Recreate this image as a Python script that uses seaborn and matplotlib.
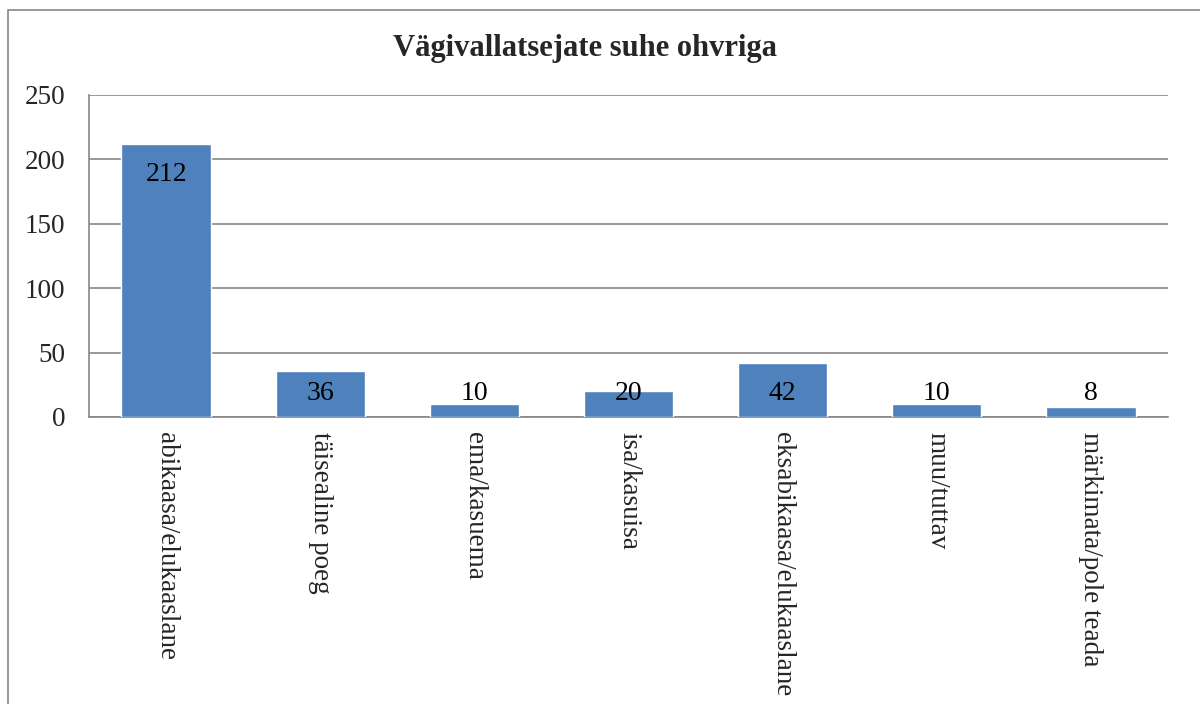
import matplotlib
matplotlib.use("Agg")
import matplotlib.pyplot as plt
import matplotlib.patches as patches
import pandas as pd
import seaborn as sns

# Data
categories = ["abikaasa/elukaaslane", "täisealine poeg", "ema/kasuema", "isa/kasuisa",
              "eksabikaasa/elukaaslane", "muu/tuttav", "märkimata/pole teada"]
counts = [212, 36, 10, 20, 42, 10, 8]
title = "Vägivallatsejate suhe ohvriga"

df = pd.DataFrame({"suhe": categories, "arv": counts})

sns.set_style("white")
plt.rcParams["font.family"] = ["Liberation Serif", "DejaVu Serif"]

fig = plt.figure(figsize=(12, 7.04), dpi=100)
ax = fig.add_axes([0.0742, 0.4077, 0.8991, 0.4574])

bar_color = "#4F81BD"
sns.barplot(data=df, x="suhe", y="arv", color=bar_color, width=0.58,
            saturation=1, ax=ax, zorder=3)

ax.set_ylim(0, 250)
ax.set_xlim(-0.5, len(categories) - 0.5)
ax.set_yticks(range(0, 251, 50))
ax.yaxis.grid(True, color="#868686", linewidth=1.2, zorder=0)
ax.xaxis.grid(False)
ax.set_xlabel("")
ax.set_ylabel("")
for s in ["top", "right"]:
    ax.spines[s].set_visible(False)
for s in ["left", "bottom"]:
    ax.spines[s].set_color("#868686")
    ax.spines[s].set_linewidth(1.2)
ax.tick_params(axis="y", length=0, pad=17, labelsize=19.5)
ax.tick_params(axis="x", length=0, pad=11, labelsize=19.5)
ax.set_xticks(range(len(categories)))
ax.set_xticklabels(categories, rotation=270, va="top", ha="center")

# value labels (inside end, pushed up for short bars)
for i, v in enumerate(counts):
    ax.text(i, max(v - 24, 18.5), str(v), ha="center", va="center",
            fontsize=20, color="black", zorder=4)

fig.text(0.4875, 0.931, title, ha="center", va="center",
         fontsize=22, fontweight="bold")

# chart frame
frame = patches.Rectangle((8 / 1200, -0.1), 1.2, 0.1 + 1 - 10 / 704,
                          transform=fig.transFigure, fill=False,
                          edgecolor="#868686", linewidth=1.2)
fig.patches.append(frame)

fig.savefig("out.png", dpi=100)
